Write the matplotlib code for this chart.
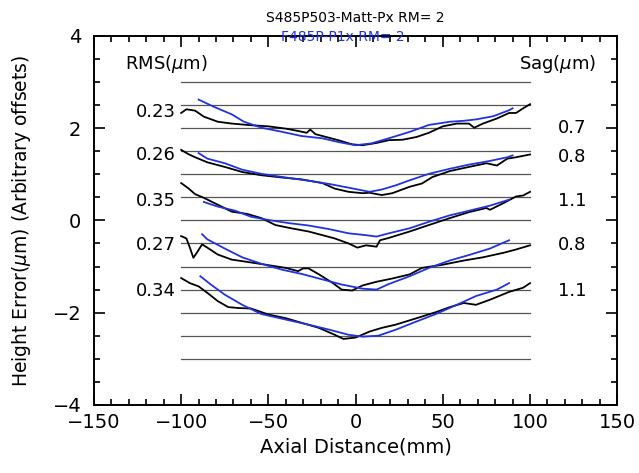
import matplotlib.pyplot as plt
from matplotlib.ticker import MultipleLocator

# reference lines (offset baselines)
ref_levels = [3.0, 2.5, 2.0, 1.5, 1.0, 0.5, 0.0, -0.5, -1.0, -1.5, -2.0, -2.5, -3.0]

# black curves (S485P503-Matt-Px)
bx1 = [-100, -97, -92, -87, -79, -71, -62, -50, -40, -33, -28, -26, -23, -17, -10, -2, 4, 12, 19, 27, 35, 42, 50, 58, 65, 68, 73, 81, 88, 92, 96, 100]
by1 = [2.33, 2.41, 2.38, 2.25, 2.14, 2.10, 2.07, 2.04, 1.99, 1.94, 1.90, 1.97, 1.87, 1.81, 1.74, 1.65, 1.63, 1.68, 1.74, 1.75, 1.81, 1.90, 2.04, 2.10, 2.10, 2.01, 2.10, 2.21, 2.33, 2.33, 2.43, 2.52]
bx2 = [-100, -96, -92, -85, -75, -65, -54, -42, -31, -19, -12, -4, 4, 8, 15, 21, 31, 38, 44, 54, 65, 75, 81, 87, 92, 100]
by2 = [1.53, 1.44, 1.37, 1.26, 1.16, 1.05, 0.98, 0.93, 0.89, 0.81, 0.69, 0.62, 0.59, 0.60, 0.55, 0.59, 0.73, 0.80, 0.94, 1.07, 1.16, 1.24, 1.19, 1.34, 1.37, 1.43]
bx3 = [-100, -96, -92, -87, -79, -71, -62, -54, -46, -37, -27, -19, -12, -4, 1, 6, 12, 14, 19, 31, 42, 54, 65, 75, 77, 85, 92, 96, 100]
by3 = [0.81, 0.70, 0.57, 0.49, 0.34, 0.19, 0.14, 0.05, -0.10, -0.17, -0.24, -0.32, -0.39, -0.50, -0.59, -0.54, -0.57, -0.43, -0.38, -0.24, -0.10, 0.05, 0.18, 0.27, 0.23, 0.38, 0.52, 0.54, 0.62]
bx4 = [-100, -97, -95, -93, -91, -88, -85, -79, -71, -62, -50, -40, -33, -30, -27, -21, -13, -8, -2, 4, 12, 21, 31, 38, 50, 62, 73, 85, 92, 100]
by4 = [-0.34, -0.39, -0.59, -0.81, -0.70, -0.52, -0.59, -0.74, -0.85, -0.90, -0.97, -1.03, -1.10, -1.04, -1.04, -1.17, -1.36, -1.50, -1.52, -1.41, -1.33, -1.26, -1.17, -1.03, -0.96, -0.87, -0.80, -0.70, -0.63, -0.54]
bx5 = [-100, -95, -90, -85, -79, -73, -67, -60, -50, -40, -31, -21, -12, -7, 0, 8, 15, 23, 35, 46, 54, 62, 69, 77, 88, 96, 100]
by5 = [-1.25, -1.36, -1.43, -1.57, -1.75, -1.88, -1.90, -1.91, -2.04, -2.12, -2.22, -2.33, -2.48, -2.57, -2.54, -2.41, -2.33, -2.26, -2.12, -1.99, -1.88, -1.79, -1.83, -1.72, -1.55, -1.46, -1.36]

# blue curves (F485P-P1x)
ux1 = [-90, -81, -71, -64, -54, -42, -31, -19, -10, 0, 9, 19, 31, 42, 54, 62, 69, 79, 88, 90]
uy1 = [2.62, 2.46, 2.30, 2.14, 2.01, 1.92, 1.83, 1.78, 1.70, 1.63, 1.67, 1.78, 1.92, 2.07, 2.14, 2.16, 2.19, 2.26, 2.39, 2.43]
ux2 = [-90, -85, -75, -65, -54, -40, -27, -15, -4, 8, 15, 23, 31, 42, 54, 65, 77, 87, 90]
uy2 = [1.46, 1.34, 1.24, 1.10, 1.01, 0.93, 0.86, 0.79, 0.71, 0.62, 0.67, 0.76, 0.87, 1.01, 1.12, 1.21, 1.29, 1.37, 1.41]
ux3 = [-87, -79, -69, -60, -50, -38, -27, -15, -4, 6, 12, 19, 31, 42, 54, 65, 77, 88]
uy3 = [0.40, 0.30, 0.21, 0.08, 0.01, -0.06, -0.11, -0.19, -0.28, -0.32, -0.35, -0.28, -0.17, -0.03, 0.11, 0.21, 0.32, 0.45]
ux4 = [-88, -85, -75, -65, -54, -42, -31, -19, -8, 4, 12, 19, 31, 42, 54, 65, 77, 88]
uy4 = [-0.30, -0.41, -0.61, -0.80, -0.94, -1.07, -1.16, -1.28, -1.39, -1.48, -1.50, -1.38, -1.21, -1.03, -0.87, -0.75, -0.61, -0.43]
ux5 = [-89, -83, -75, -65, -54, -40, -27, -15, -4, 4, 13, 23, 35, 46, 58, 69, 81, 88]
uy5 = [-1.21, -1.39, -1.61, -1.83, -2.03, -2.15, -2.26, -2.37, -2.48, -2.52, -2.50, -2.37, -2.19, -2.03, -1.83, -1.64, -1.50, -1.36]

rms_labels = ["0.23", "0.26", "0.35", "0.27", "0.34"]
rms_y = [2.35, 1.41, 0.43, -0.54, -1.52]
sag_labels = ["0.7", "0.8", "1.1", "0.8", "1.1"]
sag_y = [2.0, 1.37, 0.43, -0.54, -1.52]

fig = plt.figure(figsize=(6.39, 4.73), dpi=100)
ax = fig.add_axes([0.147, 0.144, 0.819, 0.78])

for lv in ref_levels:
    ax.plot([-100, 100], [lv, lv], color='#555555', lw=0.9)

black = [(bx1, by1), (bx2, by2), (bx3, by3), (bx4, by4), (bx5, by5)]
blue = [(ux1, uy1), (ux2, uy2), (ux3, uy3), (ux4, uy4), (ux5, uy5)]
for x, y in black:
    ax.plot(x, y, color='black', lw=1.3)
for x, y in blue:
    ax.plot(x, y, color='#2233dd', lw=1.3)

for lab, y in zip(rms_labels, rms_y):
    ax.text(-103, y, lab, ha='right', va='center', fontsize=13)
for lab, y in zip(sag_labels, sag_y):
    ax.text(124, y, lab, ha='center', va='center', fontsize=13)
ax.text(-132, 3.4, r'RMS($\mu$m)', ha='left', va='center', fontsize=13)
ax.text(138, 3.4, r'Sag($\mu$m)', ha='right', va='center', fontsize=13)

ax.set_xlim(-150, 150)
ax.set_ylim(-4, 4)
ax.xaxis.set_major_locator(MultipleLocator(50))
ax.xaxis.set_minor_locator(MultipleLocator(10))
ax.yaxis.set_major_locator(MultipleLocator(2))
ax.yaxis.set_minor_locator(MultipleLocator(0.5))
ax.tick_params(which='both', direction='in', top=True, right=True, labelsize=14, width=1.2)
ax.tick_params(which='major', length=8)
ax.tick_params(which='minor', length=4)
ax.tick_params(axis='y', pad=9)
ax.tick_params(axis='x', pad=6)
for s in ax.spines.values():
    s.set_linewidth(1.4)

ax.set_xlabel('Axial Distance(mm)', fontsize=14, labelpad=4)
ax.set_ylabel(r'Height Error($\mu$m) (Arbitrary offsets)', fontsize=13.5, labelpad=14)

fig.text(0.556, 0.962, 'S485P503-Matt-Px RM= 2', ha='center', va='center', fontsize=10)
fig.text(0.537, 0.921, 'F485P-P1x RM= 2', ha='center', va='center', fontsize=10, color='#2233dd')

fig.savefig('out.png', dpi=100)
